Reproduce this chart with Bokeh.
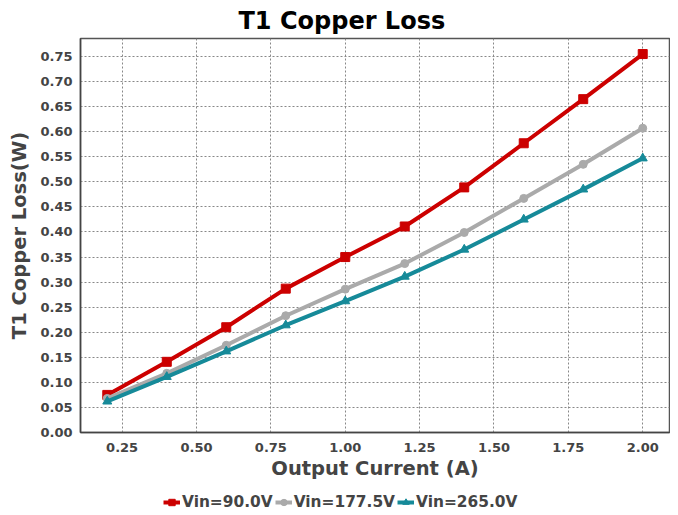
from bokeh.plotting import figure
from bokeh.layouts import column
from bokeh.models import FixedTicker, NumeralTickFormatter, Legend, LegendItem, Range1d
from bokeh.embed import file_html
from bokeh.resources import INLINE

x_current = [0.2, 0.4, 0.6, 0.8, 1.0, 1.2, 1.4, 1.6, 1.8, 2.0]
loss_90 = [0.075, 0.141, 0.210, 0.287, 0.350, 0.411, 0.489, 0.577, 0.665, 0.755]
loss_177 = [0.068, 0.118, 0.174, 0.233, 0.286, 0.337, 0.399, 0.467, 0.535, 0.607]
loss_265 = [0.062, 0.111, 0.162, 0.214, 0.262, 0.311, 0.365, 0.425, 0.485, 0.547]
series_labels = ["Vin=90.0V", "Vin=177.5V", "Vin=265.0V"]
x_ticks = [0.25, 0.5, 0.75, 1.0, 1.25, 1.5, 1.75, 2.0]
y_ticks = [0.0, 0.05, 0.1, 0.15, 0.2, 0.25, 0.3, 0.35, 0.4, 0.45, 0.5, 0.55, 0.6, 0.65, 0.7, 0.75]

FONT = "DejaVu Sans"
TXT = "#444444"

p = figure(frame_width=589, frame_height=394, output_backend="svg", toolbar_location=None,
           x_range=Range1d(0.11, 2.09), y_range=Range1d(0.0, 0.786),
           min_border_left=80, min_border_right=1, min_border_top=30, min_border_bottom=0)

p.title.text = "T1 Copper Loss"
p.title.text_font = FONT
p.title.text_font_style = "bold"
p.title.text_font_size = "24px"
p.title.text_color = "#000000"
p.title.align = "left"
p.title.offset = 158
p.title.standoff = 8

p.outline_line_color = "#555555"
p.outline_line_width = 1.5

for ax in (p.xaxis[0], p.yaxis[0]):
    ax.major_label_text_font = FONT
    ax.major_label_text_font_style = "bold"
    ax.major_label_text_font_size = "13px"
    ax.major_label_text_color = TXT
    ax.axis_label_text_font = FONT
    ax.axis_label_text_font_style = "bold"
    ax.axis_label_text_font_size = "19.5px"
    ax.axis_label_text_color = TXT
    ax.major_tick_out = 0
    ax.major_tick_in = 0
    ax.minor_tick_out = 0
    ax.minor_tick_in = 0
    ax.axis_line_color = "#444444"
    ax.axis_line_width = 1.5
    ax.formatter = NumeralTickFormatter(format="0.00")

p.xaxis[0].ticker = FixedTicker(ticks=x_ticks)
p.yaxis[0].ticker = FixedTicker(ticks=y_ticks)
p.xaxis[0].axis_label = "Output Current (A)"
p.yaxis[0].axis_label = "T1 Copper Loss(W)"
p.xaxis[0].major_label_standoff = 10
p.yaxis[0].major_label_standoff = 8
p.xaxis[0].axis_label_standoff = 2
p.yaxis[0].axis_label_standoff = 6

for g in (p.xgrid[0], p.ygrid[0]):
    g.grid_line_color = "#888888"
    g.grid_line_dash = "2 2"
    g.grid_line_width = 1

colors = ["#cc0000", "#aaaaaa", "#168a99"]
markers = ["square", "circle", "triangle"]
msizes = [9, 8, 9]
data = [loss_90, loss_177, loss_265]
for ys, c, m, s in zip(data, colors, markers, msizes):
    p.line(x_current, ys, line_color=c, line_width=4)
    p.scatter(x_current, ys, marker=m, size=s, color=c)

# legend strip below the chart (its own renderers lie outside its view)
lf = figure(width=670, height=30, output_backend="svg", toolbar_location=None,
            x_range=Range1d(-3, -2), y_range=Range1d(-3, -2),
            x_axis_type=None, y_axis_type=None, min_border=0)
lf.outline_line_color = None
lf.xgrid.visible = False
lf.ygrid.visible = False
items = []
for ys, c, m, s, lab in zip(data, colors, markers, msizes, series_labels):
    ln = lf.line(x_current, ys, line_color=c, line_width=4)
    mk = lf.scatter(x_current, ys, marker=m, size=s, color=c)
    items.append(LegendItem(label=lab, renderers=[ln, mk]))

legend = Legend(items=items, orientation="horizontal", location=(83, 1),
                label_text_font=FONT, label_text_font_style="bold",
                label_text_font_size="15.4px", label_text_color=TXT,
                glyph_width=17, glyph_height=16, label_height=16,
                label_standoff=2, spacing=2,
                padding=0, margin=0, border_line_color=None,
                background_fill_alpha=0)
lf.add_layout(legend, "center")

layout = column(p, lf, spacing=0)
open("out.html", "w").write(file_html(layout, INLINE))
